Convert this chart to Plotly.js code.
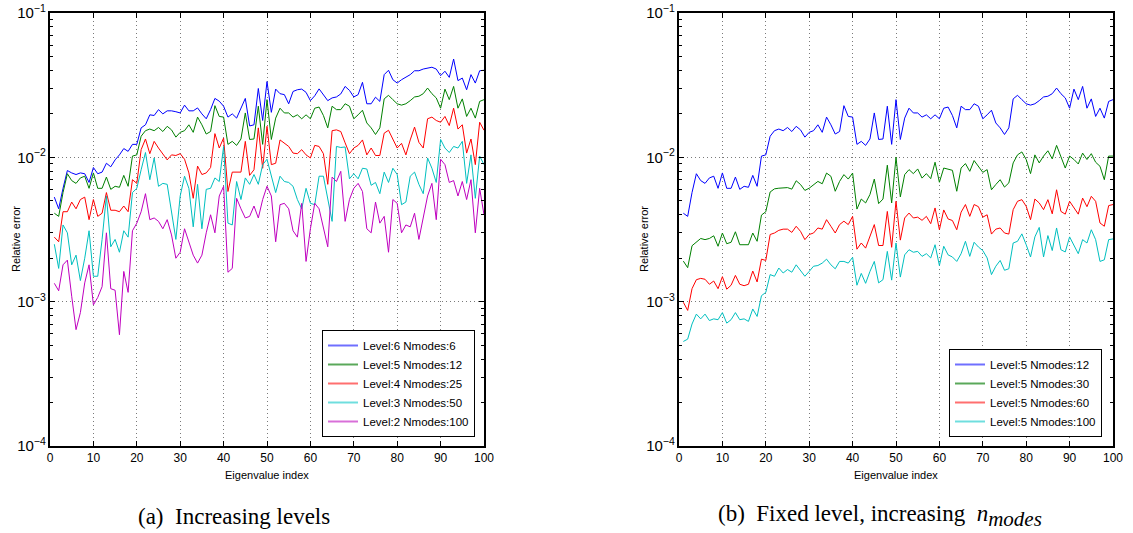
<!DOCTYPE html>
<html>
<head>
<meta charset="utf-8">
<script src="https://cdn.plot.ly/plotly-3.0.1.min.js"></script>
<style>html,body{margin:0;padding:0;background:#fff}#plot{width:1133px;height:533px}</style>
</head>
<body>
<div id="plot"></div>
<script>
// Eigenvalue index
const eigIndex = Array.from({length: 100}, (_, i) => i + 1);

// (a) Increasing levels
const level6_n6 = [0.0053,0.0044,0.0061,0.0081,0.0078,0.0076,0.0078,0.0077,0.0067,0.0085,
0.0077,0.0079,0.0091,0.0086,0.0096,0.0104,0.0115,0.0110,0.0123,0.0123,
0.0160,0.0168,0.0197,0.0195,0.0214,0.0200,0.0210,0.0210,0.0207,0.0203,
0.0230,0.0210,0.0210,0.0220,0.0200,0.0185,0.0214,0.0256,0.0245,0.0226,
0.0190,0.0200,0.0187,0.0220,0.0256,0.0165,0.0168,0.0300,0.0180,0.0335,
0.0205,0.0297,0.0276,0.0272,0.0235,0.0286,0.0294,0.0297,0.0282,0.0247,
0.0267,0.0298,0.0272,0.0247,0.0258,0.0262,0.0275,0.0310,0.0291,0.0262,
0.0272,0.0331,0.0235,0.0235,0.0261,0.0244,0.0374,0.0401,0.0345,0.0327,
0.0345,0.0358,0.0374,0.0398,0.0398,0.0409,0.0416,0.0421,0.0409,0.0368,
0.0395,0.0358,0.0480,0.0340,0.0354,0.0294,0.0374,0.0327,0.0398,0.0401];

const level5_n12 = [0.0041,0.0039,0.0057,0.0077,0.0069,0.0066,0.0072,0.0074,0.0061,0.0078,
0.0061,0.0061,0.0073,0.0060,0.0063,0.0062,0.0075,0.0063,0.0102,0.0104,
0.0140,0.0153,0.0157,0.0153,0.0161,0.0151,0.0164,0.0155,0.0138,0.0149,
0.0153,0.0168,0.0149,0.0190,0.0168,0.0145,0.0151,0.0228,0.0192,0.0190,
0.0123,0.0129,0.0121,0.0134,0.0203,0.0133,0.0134,0.0226,0.0123,0.0251,
0.0133,0.0187,0.0219,0.0203,0.0203,0.0190,0.0197,0.0185,0.0197,0.0185,
0.0219,0.0223,0.0195,0.0160,0.0226,0.0214,0.0214,0.0235,0.0226,0.0185,
0.0197,0.0212,0.0173,0.0160,0.0144,0.0160,0.0254,0.0269,0.0251,0.0235,
0.0230,0.0235,0.0247,0.0262,0.0265,0.0276,0.0302,0.0276,0.0258,0.0219,
0.0297,0.0251,0.0310,0.0219,0.0254,0.0192,0.0219,0.0187,0.0244,0.0251];

const level4_n25 = [0.0028,0.0026,0.0042,0.0042,0.0049,0.0044,0.0051,0.0053,0.0037,0.0051,
0.0039,0.0041,0.0057,0.0043,0.0043,0.0042,0.0046,0.0042,0.0070,0.0066,
0.0113,0.0134,0.0106,0.0129,0.0116,0.0106,0.0096,0.0104,0.0103,0.0106,
0.0097,0.0078,0.0052,0.0087,0.0076,0.0078,0.0085,0.0146,0.0116,0.0136,
0.0058,0.0079,0.0079,0.0079,0.0129,0.0075,0.0082,0.0160,0.0084,0.0164,
0.0089,0.0091,0.0132,0.0126,0.0119,0.0107,0.0106,0.0113,0.0104,0.0099,
0.0121,0.0119,0.0106,0.0065,0.0153,0.0155,0.0151,0.0126,0.0106,0.0116,
0.0121,0.0132,0.0104,0.0116,0.0103,0.0103,0.0147,0.0154,0.0132,0.0116,
0.0125,0.0104,0.0132,0.0162,0.0127,0.0116,0.0185,0.0190,0.0180,0.0175,
0.0192,0.0166,0.0219,0.0157,0.0168,0.0107,0.0134,0.0089,0.0175,0.0154];

const level3_n50 = [0.0025,0.0017,0.0034,0.0030,0.0018,0.0021,0.0014,0.0020,0.0031,0.0015,
0.0015,0.0027,0.0054,0.0024,0.0027,0.0022,0.0031,0.0028,0.0057,0.0061,
0.0082,0.0108,0.0070,0.0099,0.0063,0.0066,0.0065,0.0042,0.0027,0.0054,
0.0074,0.0061,0.0033,0.0065,0.0032,0.0060,0.0061,0.0072,0.0068,0.0119,
0.0035,0.0034,0.0068,0.0051,0.0072,0.0065,0.0076,0.0065,0.0089,0.0097,
0.0076,0.0057,0.0074,0.0068,0.0067,0.0063,0.0051,0.0044,0.0061,0.0048,
0.0047,0.0074,0.0074,0.0051,0.0036,0.0119,0.0117,0.0118,0.0071,0.0077,
0.0071,0.0084,0.0083,0.0064,0.0067,0.0056,0.0079,0.0067,0.0084,0.0076,
0.0047,0.0049,0.0074,0.0079,0.0065,0.0056,0.0099,0.0084,0.0067,0.0133,
0.0116,0.0108,0.0119,0.0116,0.0129,0.0066,0.0104,0.0052,0.0102,0.0089];

const level2_n100 = [0.00134,0.00119,0.00180,0.00194,0.00109,0.00064,0.00084,0.00135,0.00180,0.00095,
0.00107,0.00127,0.00300,0.00123,0.00120,0.00059,0.00162,0.00116,0.0031,0.0035,
0.0042,0.0056,0.0037,0.0038,0.0036,0.0032,0.0037,0.0029,0.0020,0.0022,
0.0032,0.0026,0.0021,0.00185,0.0021,0.0030,0.0040,0.0030,0.0054,0.0063,
0.0016,0.0017,0.0052,0.0044,0.0038,0.0039,0.0046,0.0038,0.0051,0.0063,
0.0054,0.0026,0.0047,0.0048,0.0044,0.0031,0.0028,0.0048,0.0019,0.0032,
0.0048,0.0044,0.0033,0.0024,0.0073,0.0068,0.0080,0.0036,0.0051,0.0061,
0.0066,0.0058,0.0032,0.0030,0.0049,0.0035,0.0039,0.0022,0.0051,0.0048,
0.0030,0.0034,0.0033,0.0041,0.0027,0.0038,0.0054,0.0066,0.0037,0.0097,
0.0089,0.0067,0.0069,0.0054,0.0068,0.0051,0.0070,0.0030,0.0061,0.0040];

// (b) Fixed level, increasing n_modes (Level:5 Nmodes:12 is the same run as in (a))
const level5_n30 = [0.00191,0.00172,0.00244,0.00258,0.00274,0.00269,0.00274,0.00286,0.00242,0.00299,
0.00252,0.00258,0.00305,0.00248,0.00248,0.00248,0.00299,0.00262,0.00398,0.00420,
0.00575,0.00605,0.00611,0.00611,0.00617,0.00602,0.00688,0.00648,0.00590,0.00611,
0.00648,0.00681,0.00656,0.00778,0.00739,0.00582,0.00681,0.00759,0.00707,0.00778,
0.00438,0.00514,0.00483,0.00553,0.00707,0.00478,0.00514,0.00882,0.00483,0.0100,
0.00532,0.00759,0.00822,0.00771,0.00831,0.00718,0.00771,0.00712,0.00925,0.00672,
0.00843,0.00831,0.00813,0.00582,0.00843,0.00905,0.00800,0.00950,0.00867,0.00787,
0.00822,0.00596,0.00648,0.00700,0.00622,0.00665,0.00915,0.0104,0.0109,0.00966,
0.00771,0.0104,0.00915,0.0102,0.0111,0.00976,0.0121,0.0102,0.00843,0.0102,
0.00966,0.00900,0.0107,0.00966,0.0106,0.00925,0.00867,0.00700,0.0102,0.0102];

const level5_n60 = [0.00099,0.00087,0.00123,0.00142,0.00145,0.00143,0.00132,0.00139,0.00123,0.00149,
0.00122,0.00130,0.00152,0.00132,0.00129,0.00132,0.00163,0.00137,0.00197,0.00193,
0.00292,0.00299,0.00312,0.00318,0.00318,0.00302,0.00333,0.00307,0.00269,0.00292,
0.00299,0.00324,0.00318,0.00370,0.00333,0.00299,0.00342,0.00361,0.00342,0.00390,
0.00231,0.00255,0.00235,0.00281,0.00342,0.00245,0.00245,0.00422,0.00238,0.00496,
0.00267,0.00380,0.00411,0.00380,0.00385,0.00366,0.00390,0.00347,0.00446,0.00315,
0.00432,0.00374,0.00365,0.00315,0.00417,0.00471,0.00390,0.00471,0.00455,0.00385,
0.00400,0.00294,0.00318,0.00324,0.00299,0.00294,0.00434,0.00496,0.00509,0.00458,
0.00370,0.00514,0.00483,0.00434,0.00509,0.00406,0.00596,0.00422,0.00404,0.00496,
0.00446,0.00404,0.00522,0.00455,0.00537,0.00496,0.00351,0.00333,0.00463,0.00471];

const level5_n100 = [0.00053,0.00055,0.00070,0.00082,0.00076,0.00082,0.00074,0.00076,0.00075,0.00084,
0.00071,0.00075,0.00084,0.00075,0.00076,0.00073,0.00089,0.00079,0.00110,0.00116,
0.00154,0.00150,0.00171,0.00158,0.00167,0.00160,0.00180,0.00165,0.00150,0.00162,
0.00176,0.00178,0.00185,0.00197,0.00180,0.00169,0.00190,0.00190,0.00185,0.00203,
0.00130,0.00157,0.00134,0.00162,0.00190,0.00135,0.00142,0.00223,0.00141,0.00255,
0.00148,0.00211,0.00229,0.00220,0.00223,0.00206,0.00215,0.00201,0.00248,0.00178,
0.00242,0.00211,0.00204,0.00190,0.00215,0.00262,0.00206,0.00258,0.00239,0.00226,
0.00201,0.00154,0.00176,0.00193,0.00165,0.00169,0.00255,0.00262,0.00295,0.00248,
0.00204,0.00281,0.00327,0.00204,0.00287,0.00226,0.00324,0.00229,0.00221,0.00281,
0.00248,0.00215,0.00269,0.00255,0.00315,0.00269,0.00190,0.00195,0.00269,0.00272];

const xTickVals = [0,10,20,30,40,50,60,70,80,90,100];
const legendA = ['Level:6 Nmodes:6','Level:5 Nmodes:12','Level:4 Nmodes:25','Level:3 Nmodes:50','Level:2 Nmodes:100'];
const legendB = ['Level:5 Nmodes:12','Level:5 Nmodes:30','Level:5 Nmodes:60','Level:5 Nmodes:100'];
const xTitle = 'Eigenvalue index';
const yTitle = 'Relative error';
const captionA = '(a)  Increasing levels';
const captionB = '(b)  Fixed level, increasing  <i>n</i><sub><span style="font-size:21px"><i>modes</i></span></sub>';

const colors = ['#0000ff','#008000','#ff0000','#00bfbf','#bf00bf'];
const legendColors = ['#6f6fff','#5aa85a','#ff6f6f','#6fdede','#d86fd8'];
const seriesA = [level6_n6, level5_n12, level4_n25, level3_n50, level2_n100];
const seriesB = [level5_n12, level5_n30, level5_n60, level5_n100];

const traces = [];
seriesA.forEach((ys, i) => traces.push({
  x: eigIndex, y: ys, type: 'scatter', mode: 'lines', name: legendA[i], showlegend: false,
  line: {color: colors[i], width: 1}, xaxis: 'x', yaxis: 'y'
}));
seriesB.forEach((ys, i) => traces.push({
  x: eigIndex, y: ys, type: 'scatter', mode: 'lines', name: legendB[i], showlegend: false,
  line: {color: colors[i], width: 1}, xaxis: 'x2', yaxis: 'y2'
}));
// legend entries (key samples only)
legendA.forEach((name, i) => traces.push({
  x: [null], y: [null], type: 'scatter', mode: 'lines', name: name,
  line: {color: legendColors[i], width: 2}, xaxis: 'x', yaxis: 'y', legend: 'legend'
}));
legendB.forEach((name, i) => traces.push({
  x: [null], y: [null], type: 'scatter', mode: 'lines', name: name,
  line: {color: legendColors[i], width: 2}, xaxis: 'x2', yaxis: 'y2', legend: 'legend2'
}));

const font = 'Liberation Sans, Arial, sans-serif';
function xax(domain, anchor) {
  return {
    domain: domain, anchor: anchor, range: [0, 100], tickvals: xTickVals,
    showline: true, linecolor: '#000', linewidth: 1.8, mirror: 'ticks',
    ticks: 'inside', ticklen: 5, tickcolor: '#000', tickwidth: 1,
    showgrid: true, gridcolor: '#7a7a7a', griddash: '1px,3px', gridwidth: 1,
    zeroline: false, tickfont: {family: font, size: 12, color: '#000'}
  };
}
function yax(domain, anchor) {
  return {
    domain: domain, anchor: anchor, type: 'log', range: [-4, -1], dtick: 1,
    exponentformat: 'power', showexponent: 'all',
    showline: true, linecolor: '#000', linewidth: 1.8, mirror: 'ticks',
    ticks: 'inside', ticklen: 5, tickcolor: '#000', tickwidth: 1,
    minor: {ticks: 'inside', ticklen: 3, tickcolor: '#000', showgrid: false, dtick: 'D1'},
    showgrid: true, gridcolor: '#7a7a7a', griddash: '1px,3px', gridwidth: 1,
    zeroline: false, tickfont: {family: font, size: 12, color: '#000'}
  };
}

const yDom = [1 - 446/533, 1 - 13/533];
const legendCommon = {
  bgcolor: '#fff', bordercolor: '#000', borderwidth: 1,
  font: {family: font, size: 11.5, color: '#000'}, tracegroupgap: 0,
  xanchor: 'right', yanchor: 'bottom', itemwidth: 30
};
const P = (px) => px / 1133, Q = (py) => 1 - py / 533;
const titleFont = {family: font, size: 11, color: '#000'};
const capFont = {family: 'Liberation Serif, DejaVu Serif, serif', size: 23, color: '#000'};

const layout = {
  width: 1133, height: 533, margin: {l: 0, r: 0, t: 0, b: 0},
  paper_bgcolor: '#fff', plot_bgcolor: '#fff', showlegend: true,
  xaxis: xax([P(50), P(484)], 'y'),
  yaxis: yax(yDom, 'x'),
  xaxis2: xax([P(679), P(1113)], 'y2'),
  yaxis2: yax(yDom, 'x2'),
  legend: Object.assign({x: P(475), y: Q(437)}, legendCommon),
  legend2: Object.assign({x: P(1102), y: Q(437)}, legendCommon),
  annotations: [
    {text: xTitle, xref: 'paper', yref: 'paper', x: P(267), y: Q(475), xanchor: 'center', yanchor: 'middle', showarrow: false, font: titleFont},
    {text: xTitle, xref: 'paper', yref: 'paper', x: P(896), y: Q(475), xanchor: 'center', yanchor: 'middle', showarrow: false, font: titleFont},
    {text: yTitle, xref: 'paper', yref: 'paper', x: P(16), y: Q(239), textangle: -90, xanchor: 'center', yanchor: 'middle', showarrow: false, font: titleFont},
    {text: yTitle, xref: 'paper', yref: 'paper', x: P(644), y: Q(239), textangle: -90, xanchor: 'center', yanchor: 'middle', showarrow: false, font: titleFont},
    {text: captionA, xref: 'paper', yref: 'paper', x: P(234), y: Q(516), xanchor: 'center', yanchor: 'middle', showarrow: false, font: capFont},
    {text: captionB, xref: 'paper', yref: 'paper', x: P(880), y: Q(516), xanchor: 'center', yanchor: 'middle', showarrow: false, font: capFont}
  ]
};

Plotly.newPlot('plot', traces, layout, {displayModeBar: false, staticPlot: true});
</script>
</body>
</html>
